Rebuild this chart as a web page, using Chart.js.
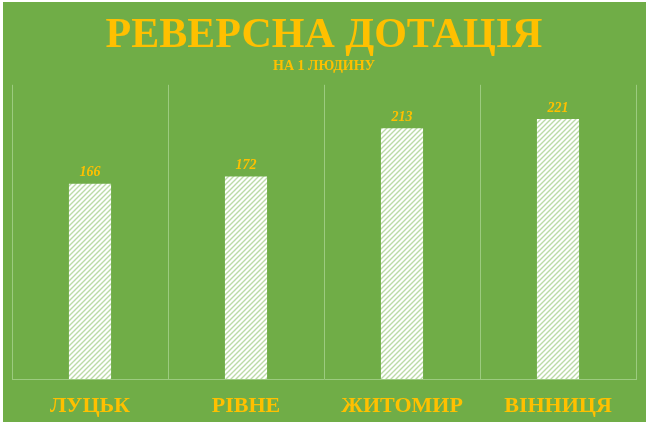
<!DOCTYPE html>
<html>
<head>
<meta charset="utf-8">
<script src="https://cdn.jsdelivr.net/npm/chart.js@4"></script>
<style>
  html, body { margin: 0; padding: 0; background: #ffffff; }
  #wrap { width: 650px; height: 427px; }
</style>
</head>
<body>
<div id="wrap"><canvas id="chart" width="650" height="427"></canvas></div>
<script>
// data
var cities = ["ЛУЦЬК", "РІВНЕ", "ЖИТОМИР", "ВІННИЦЯ"];
var dotation = [166, 172, 213, 221];

var green = '#70ad47';
var gold = '#ffc000';
var lineGreen = '#9ccb7f';

// white bar with light green upward diagonal hatch
function hatch() {
    var c = document.createElement('canvas');
    c.width = 5; c.height = 5;
    var g = c.getContext('2d');
    g.fillStyle = '#ffffff';
    g.fillRect(0, 0, 5, 5);
    g.strokeStyle = '#bcdba7';
    g.lineWidth = 1.4;
    g.beginPath();
    g.moveTo(-1, 6); g.lineTo(6, -1);
    g.moveTo(-1, 1); g.lineTo(1, -1);
    g.moveTo(4, 6); g.lineTo(6, 4);
    g.stroke();
    return document.getElementById('chart').getContext('2d').createPattern(c, 'repeat');
}

var background = {
    id: 'background',
    beforeDraw: function(chart) {
        var ctx = chart.ctx;
        ctx.save();
        ctx.fillStyle = '#ffffff';
        ctx.fillRect(0, 0, chart.width, chart.height);
        ctx.fillStyle = green;
        ctx.fillRect(3, 2, 643, 420);
        ctx.restore();
    }
};

var valueLabels = {
    id: 'valueLabels',
    afterDatasetsDraw: function(chart) {
        var ctx = chart.ctx;
        var meta = chart.getDatasetMeta(0);
        ctx.save();
        ctx.fillStyle = gold;
        ctx.font = 'italic bold 14px "Liberation Serif"';
        ctx.textAlign = 'center';
        ctx.textBaseline = 'middle';
        meta.data.forEach(function(bar, i) {
            ctx.fillText(dotation[i], bar.x, bar.y - 11);
        });
        ctx.restore();
    }
};

var ctx = document.getElementById('chart').getContext('2d');
window.myBar = new Chart(ctx, {
    type: 'bar',
    data: {
        labels: cities,
        datasets: [{
            data: dotation,
            backgroundColor: hatch(),
            borderWidth: 0,
            barPercentage: 0.27,
            categoryPercentage: 1
        }]
    },
    options: {
        responsive: false,
        animation: false,
        layout: { padding: { left: 12, right: 14, top: 0, bottom: 0 } },
        plugins: {
            legend: { display: false },
            tooltip: { enabled: false },
            title: {
                display: true,
                text: 'РЕВЕРСНА ДОТАЦІЯ',
                color: gold,
                font: { family: '"Liberation Serif"', size: 42, weight: 'bold', lineHeight: 1.0 },
                padding: { top: 15, bottom: 0 }
            },
            subtitle: {
                display: true,
                text: 'НА 1 ЛЮДИНУ',
                color: gold,
                font: { family: '"Liberation Serif"', size: 14, weight: 'bold', lineHeight: 1.2 },
                padding: { top: 1, bottom: 10 }
            }
        },
        scales: {
            x: {
                grid: { color: lineGreen, lineWidth: 1, drawTicks: false, offset: true },
                border: { color: lineGreen, width: 1 },
                ticks: {
                    color: gold,
                    padding: 14,
                    font: { family: '"Liberation Serif"', size: 22, weight: 'bold' }
                },
                afterFit: function(scale) { scale.height = 48; }
            },
            y: {
                display: false,
                min: 0,
                max: 250
            }
        }
    },
    plugins: [background, valueLabels]
});
</script>
</body>
</html>
